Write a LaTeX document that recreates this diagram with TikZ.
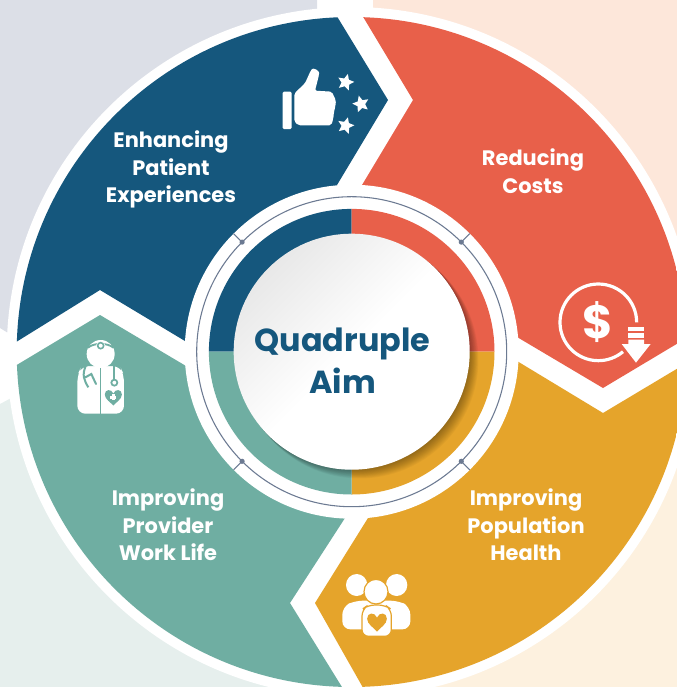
\documentclass[tikz,border=0pt]{standalone}
\usepackage{fontspec}
\setmainfont{Poppins}
\usetikzlibrary{positioning,shapes.geometric}

\definecolor{aimblue}{HTML}{15577D}
\definecolor{aimred}{HTML}{E8604A}
\definecolor{aimorange}{HTML}{E5A42B}
\definecolor{aimteal}{HTML}{6FAEA2}
\definecolor{bggray}{HTML}{DCDFE7}
\definecolor{bgpeach}{HTML}{FDE7DA}
\definecolor{bgcream}{HTML}{FDF1DF}
\definecolor{bggreen}{HTML}{E6EFED}
\definecolor{ringgray}{HTML}{6C7A92}

\begin{document}
\begin{tikzpicture}[
  x=.75pt, y=-.75pt,
  lbl/.style={text=white, align=center, font=\bfseries\fontsize{15.7}{20.6}\selectfont},
  centerlbl/.style={text=aimblue, align=center, font=\bfseries\fontsize{23.9}{31.5}\selectfont},
  tick/.style={ringgray, line width=.8pt},
  dot/.style={fill=ringgray},
  staricon/.style={star, star points=5, star point ratio=2.1, fill=white, inner sep=0pt, minimum size=13pt},
  heartico/.pic={\path[fill=#1] (0,26) .. controls (-8,16) and (-27,6) .. (-27,-9)
      .. controls (-27,-26) and (-6,-28) .. (0,-12)
      .. controls (6,-28) and (27,-26) .. (27,-9)
      .. controls (27,6) and (8,16) .. (0,26) -- cycle;}
]
\useasboundingbox (0,0) rectangle (677,687);
\clip (0,0) rectangle (677,687);

% Background corners
\fill[bggray] (0,0) -- (317,0) -- (317,352) -- (100,352) -- (13,336) -- (0,328) -- cycle;
\fill[bgpeach] (373,0) -- (677,0) -- (677,352) -- (373,352) -- cycle;
\fill[bggreen] (0,404) -- (13,397) -- (100,352) -- (352,352) -- (352,687) -- (0,687) -- cycle;
\fill[bgcream] (352,352) -- (677,352) -- (677,687) -- (352,687) -- cycle;
\fill[white] (351.7,352) circle (345);

% Chevron segments
\begin{scope}
  \clip (351.7,352) circle (335);
  \fill[aimblue] (352,352) -- (185,341) -- (100,290) -- (0,352) -- (0,0) -- (327,0) -- (388,100) -- (337,185) -- cycle;
  \fill[aimred] (352,352) -- (362,185) -- (413,100) -- (353,0) -- (700,0) -- (700,330) -- (603,388) -- (517,337) -- cycle;
  \fill[aimorange] (352,352) -- (517,361) -- (603,413) -- (700,355) -- (700,700) -- (370,700) -- (315,603) -- (368,518) -- cycle;
  \fill[aimteal] (352,352) -- (186,366) -- (100,315) -- (0,375) -- (0,700) -- (350,700) -- (290,603) -- (345,518) -- cycle;
\end{scope}

% Hub rings
\fill[white] (351.7,351.7) circle (167);
\draw[ringgray, line width=.8pt] (351.7,351.7) circle (155);
\foreach \ang in {45,135,225,315} {
  \draw[tick] (351.7,351.7) ++(\ang:155) -- ++(\ang:12);
  \fill[dot] (351.7,351.7) ++(\ang:155) circle (2.6);
}
\fill[aimblue] (351.7,351.7) -- (208.9,351.7) arc [start angle=180, end angle=270, radius=142.8] -- cycle;
\fill[aimred] (351.7,351.7) -- (351.7,208.9) arc [start angle=270, end angle=360, radius=142.8] -- cycle;
\fill[aimorange] (351.7,351.7) -- (494.5,351.7) arc [start angle=0, end angle=90, radius=142.8] -- cycle;
\fill[aimteal] (351.7,351.7) -- (351.7,494.5) arc [start angle=90, end angle=180, radius=142.8] -- cycle;

% Soft shadow of the hub
\begin{scope}
  \clip (351.7,351.7) circle (142.8);
  \foreach \r in {1,...,12} {
    \fill[black, opacity=.03] ({351.7+.65*\r},{351.7+.65*\r}) circle ({118+.08*\r});
  }
\end{scope}
\shade[top color=black!9, bottom color=white, middle color=white, shading angle=45] (351.7,351.7) circle (118);

% Labels
\node[centerlbl] (hub) at (342.5,361) {Quadruple\\Aim};
\node[lbl] (patient) at (171,169.5) {Enhancing\\Patient\\Experiences};
\node[lbl] (costs) at (533,171) {Reducing\\Costs};
\node[lbl] (provider) at (168,525) {Improving\\Provider\\Work Life};
\node[lbl] (population) at (526,525) {Improving\\Population\\Health};

% Thumb icon
\begin{scope}[shift={(260,50)}, scale=1/3]
  \fill[white, rounded corners=1pt] (68,125) rectangle (95,237);
  \fill[white, rounded corners=1.5pt] (103,130) -- (135,100) -- (152,62) .. controls (160,52) and (178,62) .. (177,75)
    -- (165,122) -- (216,125) -- (222,140) -- (228,150) -- (226,170) -- (222,185) -- (220,205) -- (214,226) -- (115,226) -- (103,215) -- cycle;
  \foreach \sx/\sy/\rot [count=\i] in {257/97/-15, 303/162/15, 257/227/-15} {
    \node[staricon, rotate=\rot] (star\i) at (\sx,\sy) {};
  }
\end{scope}

% Dollar icon
\begin{scope}[shift={(530,270)}, scale=1/3]
  \draw[white, line width=2.4pt] (320,157) arc [start angle=0, end angle=-310, radius=115];
  \node[text=white, font=\bfseries\fontsize{35}{35}\selectfont] (dollar) at (205,157) {\$};
  \fill[white] (295,172) rectangle (342,183);
  \fill[white] (295,190) rectangle (342,203);
  \fill[white] (295,209) -- (342,209) -- (342,222) -- (362,222) -- (318,278) -- (275,222) -- (295,222) -- cycle;
\end{scope}

% Doctor icon
\begin{scope}[shift={(0,280)}, scale=1/3]
  \fill[white, rounded corners=6pt] (232,401) -- (232,285) -- (245,258) -- (360,258) -- (372,285) -- (372,401) -- cycle;
  \draw[aimteal, line width=.9pt] (302,262) -- (302,401);
  \fill[aimteal] (262,258) -- (345,258) -- (340,240) -- (265,240) -- cycle;
  \draw[aimteal, line width=1.5pt] (258,256) .. controls (245,285) and (252,300) .. (265,322);
  \draw[aimteal, line width=1.5pt, line cap=round] (256,292) -- (274,282) -- (288,312);
  \draw[aimteal, line width=1.5pt] (343,256) -- (343,298);
  \draw[aimteal, line width=1.3pt] (343,308) circle (9);
  \fill[white] (302,222) circle (42);
  \draw[aimteal, line width=1.4pt] (264,203) .. controls (280,188) and (324,188) .. (340,203);
  \fill[white] (302,197) circle (14);
  \draw[aimteal, line width=1.2pt] (302,197) circle (9);
  \pic at (340,352) [transform shape, scale=.95] {heartico=aimteal};
  \fill[white] (336,343) rectangle (344,361);
  \fill[white] (331,348) rectangle (349,356);
\end{scope}

% People icon
\begin{scope}[shift={(300,550)}, scale=1/3]
  \fill[white] (170,105) ellipse (32 and 33);
  \fill[white] (290,105) ellipse (32 and 33);
  \fill[white, rounded corners=6pt] (127,238) -- (127,170) -- (165,152) -- (295,152) -- (331,170) -- (331,238) -- cycle;
  \draw[aimorange, line width=.9pt, fill=white, rounded corners=5pt] (186,259) -- (186,178) -- (205,165) -- (255,165) -- (274,178) -- (274,259) -- cycle;
  \draw[aimorange, line width=.9pt, fill=white] (228,125) ellipse (36 and 37);
  \pic at (231,216) [transform shape, scale=1.1] {heartico=aimorange};
\end{scope}
\end{tikzpicture}
\end{document}
